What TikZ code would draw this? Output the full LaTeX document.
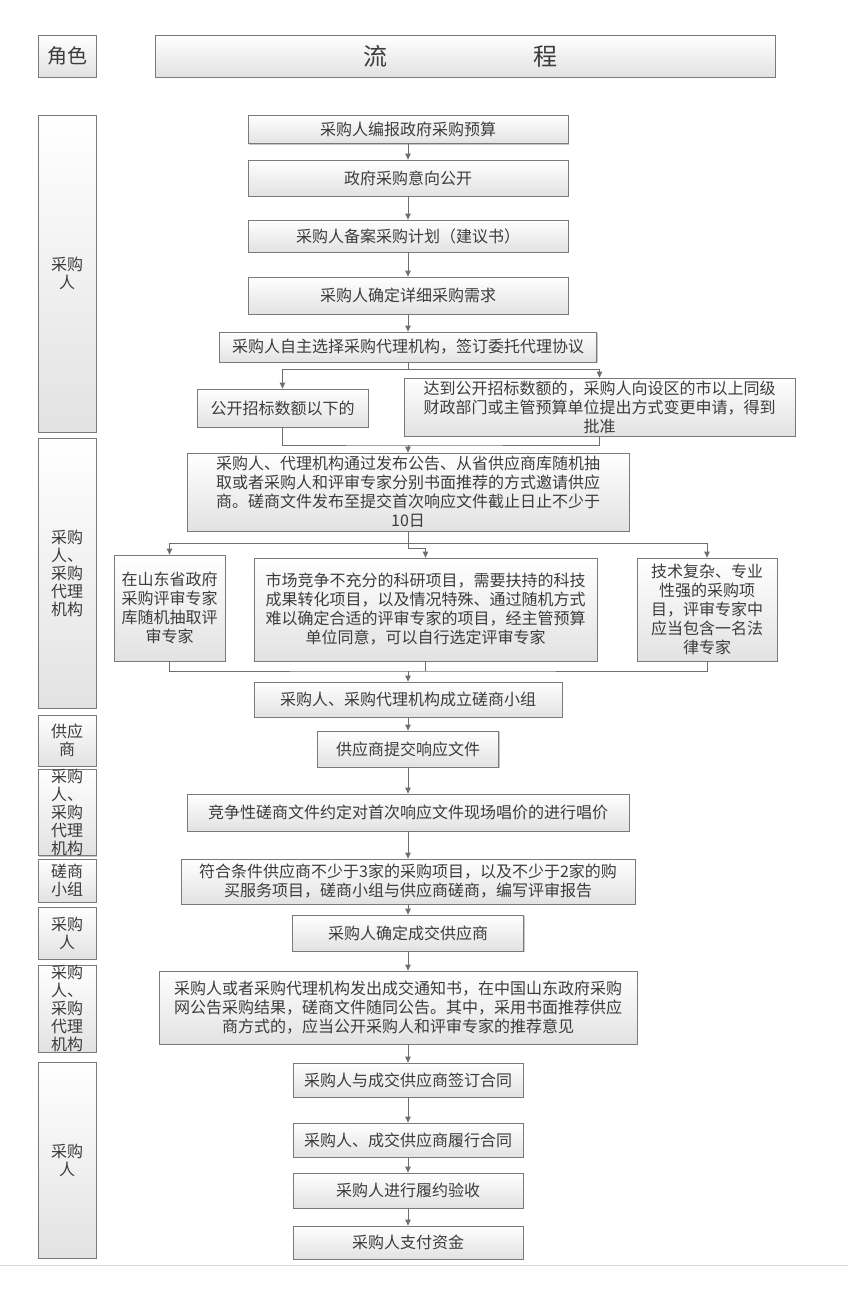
\documentclass[tikz,border=0pt]{standalone}
\usepackage{fontspec}
\setmainfont{Noto Sans CJK SC}
\usetikzlibrary{arrows.meta,shadows}
\definecolor{bd}{HTML}{7A7A7A}
\definecolor{tx}{HTML}{3C3C3C}
\definecolor{lnc}{HTML}{6E6E6E}
\definecolor{bot}{HTML}{E2E2E2}
\definecolor{pg}{HTML}{D8D8D8}
\tikzset{
 box/.style={draw=bd, line width=0.8pt, top color=white, bottom color=bot,
   drop shadow={shadow xshift=1.3pt, shadow yshift=-1.3pt, fill=black, opacity=0.22},
   text=tx, align=center, inner sep=0pt, font=\fontsize{16}{19}\selectfont},
 role/.style={box, font=\fontsize{16}{18}\selectfont},
 lnk/.style={draw=lnc, line width=0.9pt},
 arr/.style={lnk, -{Triangle[length=6pt,width=5.5pt]}},
}
\begin{document}
\begin{tikzpicture}[x=1pt,y=-1pt]
\fill[white] (0,0) rectangle (848,1297);
\useasboundingbox (0,0) rectangle (848,1297);
\draw[pg, line width=0.8pt] (0,1265) -- (848,1265);

% header
\node[box, minimum width=58pt, minimum height=42pt, font=\fontsize{20}{22}\selectfont] (hr) at (67,56) {角色};
\node[box, minimum width=620pt, minimum height=42pt, font=\fontsize{24}{26}\selectfont] (hf) at (465,56) {流\hspace{146pt}程\hspace{10pt}};

% roles
\node[role, minimum width=58pt, minimum height=317pt] (r1) at (67,273.5) {采购\\人};
\node[role, minimum width=58pt, minimum height=270pt] (r2) at (67,573) {采购\\人、\\采购\\代理\\机构};
\node[role, minimum width=58pt, minimum height=51pt] (r3) at (67,740.5) {供应\\商};
\node[role, minimum width=58pt, minimum height=82pt] (r4) at (67,812.5) {采购\\人、\\采购\\代理\\机构};
\node[role, minimum width=58pt, minimum height=43pt] (r5) at (67,880.5) {磋商\\小组};
\node[role, minimum width=58pt, minimum height=52pt] (r6) at (67,933) {采购\\人};
\node[role, minimum width=58pt, minimum height=87pt] (r7) at (67,1008.5) {采购\\人、\\采购\\代理\\机构};
\node[role, minimum width=58pt, minimum height=196pt] (r8) at (67,1160) {采购\\人};

% flow
\node[box, minimum width=320pt, minimum height=28.5pt] (b1) at (408,129.5) {采购人编报政府采购预算};
\node[box, minimum width=320pt, minimum height=36pt] (b2) at (408,178) {政府采购意向公开};
\node[box, minimum width=320pt, minimum height=32pt] (b3) at (408,236) {采购人备案采购计划（建议书）};
\node[box, minimum width=320pt, minimum height=37pt] (b4) at (408,295.5) {采购人确定详细采购需求};
\node[box, minimum width=377pt, minimum height=30pt] (b5) at (408,347) {采购人自主选择采购代理机构，签订委托代理协议};
\node[box, minimum width=171pt, minimum height=38pt] (b6a) at (282.5,408) {公开招标数额以下的};
\node[box, minimum width=391pt, minimum height=58pt] (b6b) at (599.5,407) {达到公开招标数额的，采购人向设区的市以上同级\\财政部门或主管预算单位提出方式变更申请，得到\\批准};
\node[box, minimum width=442pt, minimum height=78pt] (b7) at (408,492) {采购人、代理机构通过发布公告、从省供应商库随机抽\\取或者采购人和评审专家分别书面推荐的方式邀请供应\\商。磋商文件发布至提交首次响应文件截止日止不少于\\10日};
\node[box, minimum width=111pt, minimum height=106pt] (b8a) at (169.5,608) {在山东省政府\\采购评审专家\\库随机抽取评\\审专家};
\node[box, minimum width=343pt, minimum height=103pt] (b8b) at (425.5,609.5) {市场竞争不充分的科研项目，需要扶持的科技\\成果转化项目，以及情况特殊、通过随机方式\\难以确定合适的评审专家的项目，经主管预算\\单位同意，可以自行选定评审专家};
\node[box, minimum width=140pt, minimum height=103pt] (b8c) at (707,609.5) {技术复杂、专业\\性强的采购项\\目，评审专家中\\应当包含一名法\\律专家};
\node[box, minimum width=308pt, minimum height=35pt] (b9) at (408,699.5) {采购人、采购代理机构成立磋商小组};
\node[box, minimum width=181pt, minimum height=36pt] (b10) at (408,749) {供应商提交响应文件};
\node[box, minimum width=442pt, minimum height=37pt] (b11) at (408,812.5) {竞争性磋商文件约定对首次响应文件现场唱价的进行唱价};
\node[box, minimum width=454pt, minimum height=45pt] (b12) at (408,881.5) {符合条件供应商不少于3家的采购项目，以及不少于2家的购\\买服务项目，磋商小组与供应商磋商，编写评审报告};
\node[box, minimum width=231pt, minimum height=36pt] (b13) at (408,933) {采购人确定成交供应商};
\node[box, minimum width=478pt, minimum height=73pt] (b14) at (398,1007.5) {采购人或者采购代理机构发出成交通知书，在中国山东政府采购\\网公告采购结果，磋商文件随同公告。其中，采用书面推荐供应\\商方式的，应当公开采购人和评审专家的推荐意见};
\node[box, minimum width=230pt, minimum height=34pt] (b15) at (408,1080) {采购人与成交供应商签订合同};
\node[box, minimum width=230pt, minimum height=34pt] (b16) at (408,1140) {采购人、成交供应商履行合同};
\node[box, minimum width=230pt, minimum height=35pt] (b17) at (408,1190.5) {采购人进行履约验收};
\node[box, minimum width=230pt, minimum height=33pt] (b18) at (408,1242.5) {采购人支付资金};

% connectors
\draw[arr] (b1.south) -- (b2.north);
\draw[arr] (b2.south) -- (b3.north);
\draw[arr] (b3.south) -- (b4.north);
\draw[arr] (b4.south) -- (b5.north);
\coordinate (s1) at (408,369);
\draw[lnk] (b5.south) -- (s1);
\draw[arr] (s1) -| (b6a.north);
\draw[arr] (s1) -| (b6b.north);
\coordinate (m1) at (408,445);
\draw[lnk] (b6a.south) |- (m1) -| (b6b.south);
\draw[arr] (m1) -- (b7.north);
\coordinate (s2) at (408,543);
\draw[lnk] (b7.south) -- (s2);
\draw[arr] (s2) -| (b8a.north);
\draw[arr] (s2) -| (b8c.north);
\draw[arr] (s2) -- ++(0,5) -| (b8b.north);
\coordinate (m2) at (408,671);
\draw[lnk] (b8a.south) |- (m2) -| (b8c.south);
\draw[lnk] (b8b.south) -- (b8b.south |- m2);
\draw[arr] (m2) -- (b9.north);
\draw[arr] (b9.south) -- (b10.north);
\draw[arr] (b10.south) -- (b11.north);
\draw[arr] (b11.south) -- (b12.north);
\draw[arr] (b12.south) -- (b13.north);
\draw[arr] (b13.south) -- (b13.south |- b14.north);
\draw[arr] (b15.north |- b14.south) -- (b15.north);
\draw[arr] (b15.south) -- (b16.north);
\draw[arr] (b16.south) -- (b17.north);
\draw[arr] (b17.south) -- (b18.north);
\end{tikzpicture}
\end{document}
